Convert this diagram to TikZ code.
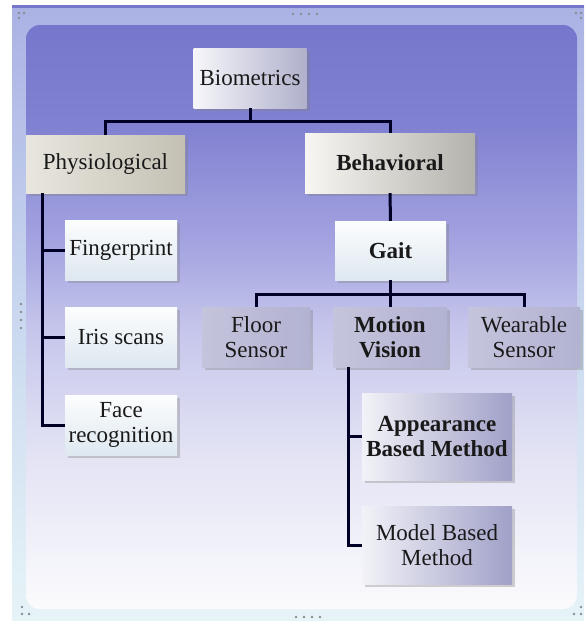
\documentclass[tikz,border=0pt]{standalone}
\usepackage{fontspec}
\setmainfont{Liberation Serif}
\usetikzlibrary{shadows,positioning}

\definecolor{bgtop}{RGB}{118,118,204}
\definecolor{bgupper}{RGB}{130,130,210}
\definecolor{bgmidhigh}{RGB}{166,166,226}
\definecolor{bgmid}{RGB}{198,198,236}
\definecolor{bgmidlow}{RGB}{226,226,244}
\definecolor{bgbot}{RGB}{251,251,253}
\definecolor{rimtop}{RGB}{170,178,228}
\definecolor{rimmid}{RGB}{204,218,240}
\definecolor{rimbot}{RGB}{230,244,248}

\pgfdeclareverticalshading{panel}{100bp}{color(0bp)=(bgbot); color(25bp)=(bgbot); color(38.6bp)=(bgmidlow); color(48.9bp)=(bgmid); color(55.7bp)=(bgmidhigh); color(66bp)=(bgupper); color(75bp)=(bgtop); color(100bp)=(bgtop)}
\pgfdeclareverticalshading{rim}{100bp}{color(0bp)=(rimbot); color(25bp)=(rimbot); color(48bp)=(rimmid); color(75bp)=(rimtop); color(100bp)=(rimtop)}

\begin{document}
\begin{tikzpicture}[x=1pt,y=-1pt]
  % Colors
  \colorlet{linkcolor}{black!75!blue!60!black}
  \definecolor{silverl}{RGB}{246,246,250}
  \definecolor{silverr}{RGB}{176,176,204}
  \definecolor{tanl}{RGB}{232,230,222}
  \definecolor{tanr}{RGB}{196,192,180}
  \definecolor{greyl}{RGB}{248,246,242}
  \definecolor{greyr}{RGB}{180,178,172}
  \definecolor{icet}{RGB}{252,253,254}
  \definecolor{iceb}{RGB}{222,232,240}
  \definecolor{lilacl}{RGB}{196,196,220}
  \definecolor{lilacm}{RGB}{238,238,246}
  \definecolor{lilacr}{RGB}{178,178,210}
  \definecolor{violl}{RGB}{242,242,248}
  \definecolor{violr}{RGB}{160,160,200}
  \colorlet{handlecolor}{black!45}

  % Styles
  \tikzstyle{box}=[minimum height=60pt, inner sep=1pt, align=center, text=black!90,
    font=\fontsize{23}{25}\selectfont,
    drop shadow={shadow xshift=3pt,shadow yshift=-3pt,opacity=.35}]
  \tikzstyle{silver}=[box, left color=silverl, right color=silverr]
  \tikzstyle{tan}=[box, left color=tanl, right color=tanr]
  \tikzstyle{grey}=[box, left color=greyl, right color=greyr]
  \tikzstyle{ice}=[box, top color=icet, bottom color=iceb]
  \tikzstyle{lilac}=[box, left color=lilacl, middle color=lilacm, right color=lilacr]
  \tikzstyle{viol}=[box, left color=violl, right color=violr]
  \tikzstyle{link}=[line width=3pt, draw=linkcolor]
  \tikzstyle{handle}=[fill=handlecolor]

  % Frame
  \useasboundingbox (0,0) rectangle (584,621);
  \shade[shading=rim] (12,5) rectangle (584,621);
  \fill[bgtop] (12,5) rectangle (584,8);
  \shade[shading=panel, rounded corners=14pt] (26,25) rectangle (577,609);

  \foreach \x in {293,301,309,317} \fill[handle] (\x,14) circle (1.3pt);
  \foreach \x in {296,304,312,320} \fill[handle] (\x,617) circle (1.3pt);
  \foreach \y in {304,312,320,328} \fill[handle] (21,\y) circle (1.3pt);
  \fill[handle] (19,13) circle (1.3pt) (24,13) circle (1.3pt) (19,18) circle (1.3pt);
  \fill[handle] (576,13) circle (1.3pt) (581,13) circle (1.3pt) (581,18) circle (1.3pt);
  \fill[handle] (22,607) circle (1.3pt) (22,614) circle (1.3pt) (29,614) circle (1.3pt);
  \fill[handle] (574,614) circle (1.3pt) (581,614) circle (1.3pt) (581,607) circle (1.3pt);

  % The graphic
  \node[silver, minimum width=113pt] (bio) at (250,78) {Biometrics};
  \node[tan, minimum width=159pt, minimum height=58pt] (phys) at (105.5,164) {Physiological};
  \node[grey, minimum width=170pt] (behav) at (390,163) {\textbf{Behavioral}};
  \node[ice, minimum width=111pt, minimum height=59pt] (gait) at (390.5,250.5) {\textbf{Gait}};

  \node[ice, minimum width=112pt] (finger) at (121,250) {Fingerprint};
  \node[ice, minimum width=112pt] (iris) at (121,337) {Iris scans};
  \node[ice, minimum width=112pt] (face) at (121,425) {Face\\recognition};

  \node[lilac, minimum width=108pt] (floor) at (256,337) {Floor\\Sensor};
  \node[lilac, minimum width=114pt] (motion) at (390,337) {\textbf{Motion}\\\textbf{Vision}};
  \node[lilac, minimum width=112pt] (wear) at (524,337) {Wearable\\Sensor};

  \node[viol, minimum width=150pt, minimum height=87pt] (appear) at (437,436.5) {\textbf{Appearance}\\\textbf{Based Method}};
  \node[viol, minimum width=150pt, minimum height=78pt] (model) at (437,545) {Model Based\\Method};

  \coordinate (physbus) at (42,193);
  \coordinate (motionbus) at ([xshift=-42pt]motion.south);

  \draw[link] (bio.south) -- ++(0,13) -| (phys.north);
  \draw[link] (bio.south) -- ++(0,13) -| (behav.north);
  \draw[link] (physbus) |- (finger.west);
  \draw[link] (physbus) |- (iris.west);
  \draw[link] (physbus) |- (face.west);
  \draw[link] (behav.south) -- (gait.north);
  \draw[link] (gait.south) -- ++(0,14) -| (floor.north);
  \draw[link] (gait.south) -- ++(0,14) -| (motion.north);
  \draw[link] (gait.south) -- ++(0,14) -| (wear.north);
  \draw[link] (motionbus) |- (appear.west);
  \draw[link] (motionbus) |- (model.west);
\end{tikzpicture}
\end{document}
